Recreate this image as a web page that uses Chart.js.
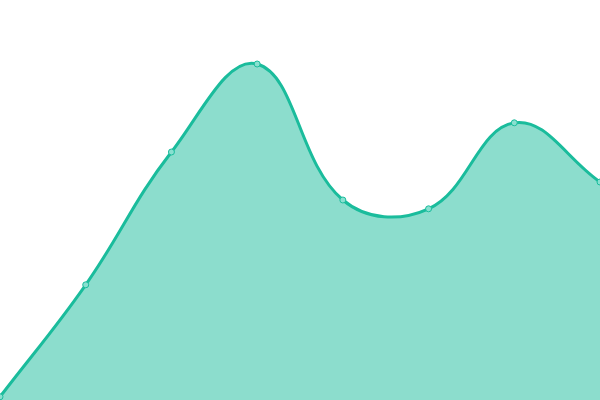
<!DOCTYPE html>
<html>
<head>
<meta charset="utf-8">
<script src="https://cdn.jsdelivr.net/npm/chart.js@4"></script>
<style>
  html, body { margin: 0; padding: 0; background: #fff; }
  #wrap { width: 600px; height: 400px; }
</style>
</head>
<body>
<div id="wrap"><canvas id="myChart"></canvas></div>
<script>
var labels = ['1', '2', '3', '4', '5', '6', '7', '8'];
var values = [0.8, 28.8, 62, 84, 50, 47.8, 69.3, 54.5];

var context = document.getElementById('myChart').getContext('2d');
var chart = new Chart(context, {
    type: 'line',
    data: {
        labels: labels,
        datasets: [{
            data: values,
            borderColor: '#1abc9c',
            backgroundColor: 'rgba(26, 188, 156, 0.5)',
            pointBackgroundColor: 'rgba(137, 224, 208, 1)',
            pointBorderColor: '#1abc9c',
            pointBorderWidth: 1,
            pointRadius: 3,
            borderWidth: 3,
            tension: 0.4,
            fill: true
        }]
    },
    options: {
        animation: false,
        responsive: true,
        maintainAspectRatio: false,
        layout: { padding: 0, autoPadding: false },
        plugins: {
            legend: { display: false },
            tooltip: { enabled: false }
        },
        scales: {
            x: { display: false, offset: false },
            y: { display: false, min: 0, max: 100 }
        }
    }
});
</script>
</body>
</html>
